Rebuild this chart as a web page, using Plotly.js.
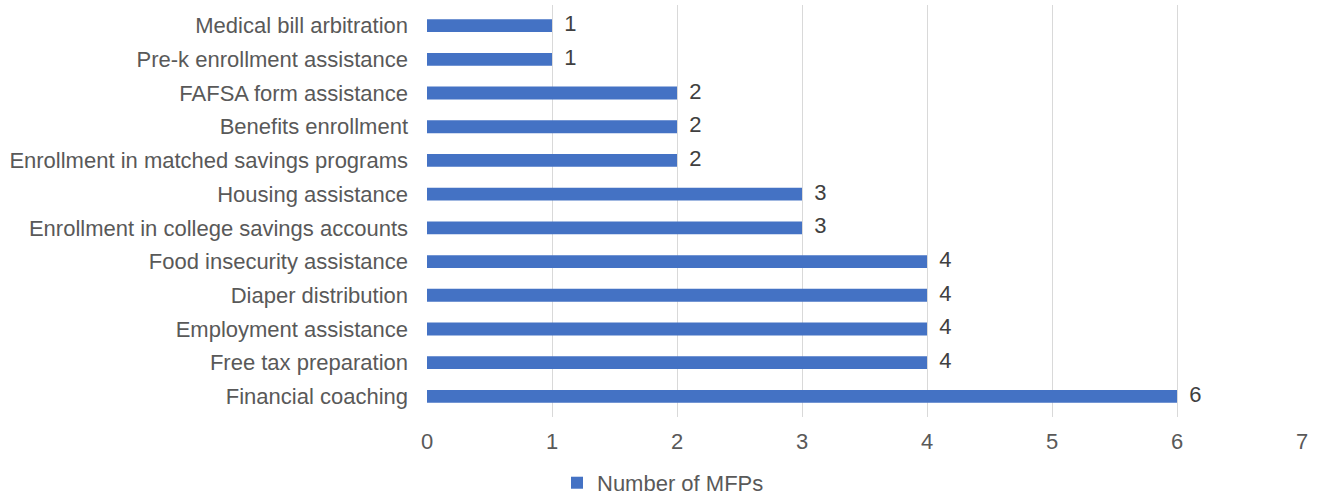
<!DOCTYPE html>
<html><head><meta charset="utf-8">
<script src="https://cdn.plot.ly/plotly-3.0.1.min.js"></script>
<style>html,body{margin:0;padding:0;background:#fff}#chart{width:1326px;height:502px}</style>
</head><body><div id="chart"></div>
<script>
const categories = [
  "Financial coaching",
  "Free tax preparation",
  "Employment assistance",
  "Diaper distribution",
  "Food insecurity assistance",
  "Enrollment in college savings accounts",
  "Housing assistance",
  "Enrollment in matched savings programs",
  "Benefits enrollment",
  "FAFSA form assistance",
  "Pre-k enrollment assistance",
  "Medical bill arbitration"
];
const values = [6, 4, 4, 4, 4, 3, 3, 2, 2, 2, 1, 1];
const seriesName = "Number of MFPs";
const xTicks = [0, 1, 2, 3, 4, 5, 6, 7];

const font = "Liberation Sans, Arial, sans-serif";
Plotly.newPlot("chart", [{
  type: "bar",
  orientation: "h",
  y: categories,
  x: values,
  name: seriesName,
  marker: {color: "#4472C4"},
  width: 0.38,
  showlegend: true
}, {
  type: "scatter",
  mode: "text",
  y: categories,
  x: values,
  text: values.map(v => "  " + v),
  textposition: "middle right",
  textfont: {family: font, size: 22, color: "#404040"},
  cliponaxis: false,
  showlegend: false,
  hoverinfo: "skip"
}], {
  width: 1326, height: 502,
  margin: {l: 427, r: 24, t: 5, b: 85, autoexpand: false},
  paper_bgcolor: "#fff", plot_bgcolor: "#fff",
  font: {family: font, size: 22, color: "#595959"},
  xaxis: {
    range: [0, 7], tickvals: xTicks, ticktext: xTicks.map(String),
    showgrid: true, gridcolor: "#d9d9d9", gridwidth: 1, zeroline: false,
    showline: false, ticks: "", ticklabelstandoff: 9,
    tickfont: {family: font, size: 22, color: "#595959"}
  },
  yaxis: {
    type: "category", categoryorder: "array", categoryarray: categories,
    showgrid: false, zeroline: false, showline: false, ticks: "",
    ticklabelstandoff: 18,
    tickfont: {family: font, size: 22, color: "#595959"}
  },
  showlegend: true,
  legend: {orientation: "h", x: 0.5, xanchor: "center", xref: "container",
    y: 0.038, yanchor: "middle", yref: "container",
    font: {family: font, size: 22, color: "#595959"}},
  bargap: 0.6
}, {displayModeBar: false, staticPlot: true});
</script></body></html>
